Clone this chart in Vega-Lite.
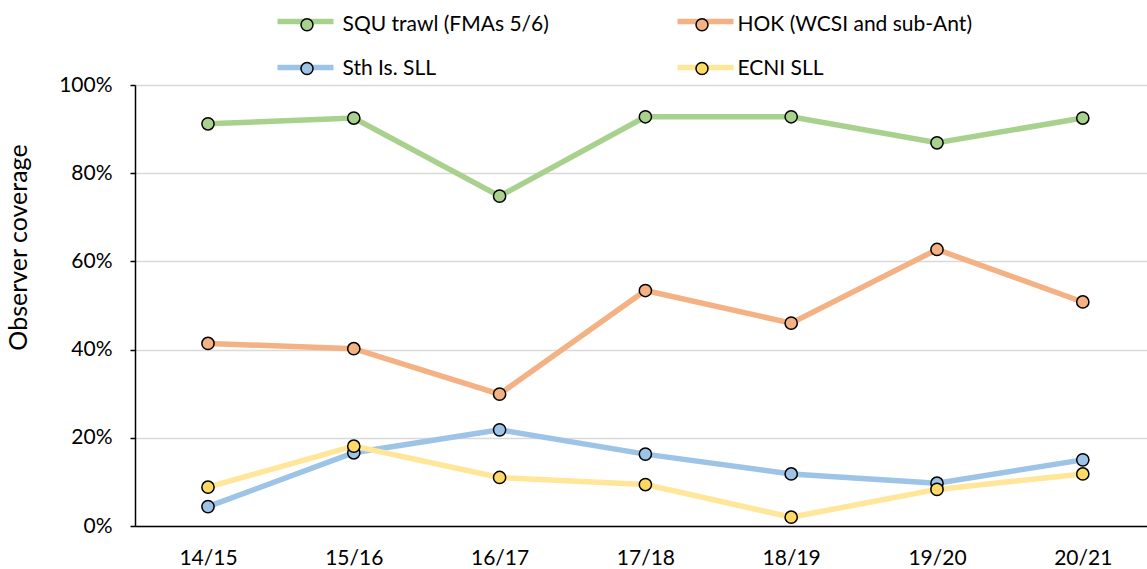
{
  "$schema": "https://vega.github.io/schema/vega-lite/v6.json",
  "width": 1012,
  "height": 441,
  "autosize": {"type": "none"},
  "padding": {"left": 135, "top": 85, "right": 0, "bottom": 43},
  "config": {
    "view": {"stroke": null},
    "font": "Lato",
    "legend": {"padding": 0}
  },
  "data": {
    "values": [
      {"season": "14/15", "series": "SQU trawl (FMAs 5/6)", "value": 0.912},
      {"season": "15/16", "series": "SQU trawl (FMAs 5/6)", "value": 0.925},
      {"season": "16/17", "series": "SQU trawl (FMAs 5/6)", "value": 0.748},
      {"season": "17/18", "series": "SQU trawl (FMAs 5/6)", "value": 0.928},
      {"season": "18/19", "series": "SQU trawl (FMAs 5/6)", "value": 0.928},
      {"season": "19/20", "series": "SQU trawl (FMAs 5/6)", "value": 0.869},
      {"season": "20/21", "series": "SQU trawl (FMAs 5/6)", "value": 0.925},
      {"season": "14/15", "series": "HOK (WCSI and sub-Ant)", "value": 0.414},
      {"season": "15/16", "series": "HOK (WCSI and sub-Ant)", "value": 0.402},
      {"season": "16/17", "series": "HOK (WCSI and sub-Ant)", "value": 0.299},
      {"season": "17/18", "series": "HOK (WCSI and sub-Ant)", "value": 0.534},
      {"season": "18/19", "series": "HOK (WCSI and sub-Ant)", "value": 0.46},
      {"season": "19/20", "series": "HOK (WCSI and sub-Ant)", "value": 0.627},
      {"season": "20/21", "series": "HOK (WCSI and sub-Ant)", "value": 0.508},
      {"season": "14/15", "series": "Sth Is. SLL", "value": 0.044},
      {"season": "15/16", "series": "Sth Is. SLL", "value": 0.166},
      {"season": "16/17", "series": "Sth Is. SLL", "value": 0.218},
      {"season": "17/18", "series": "Sth Is. SLL", "value": 0.163},
      {"season": "18/19", "series": "Sth Is. SLL", "value": 0.118},
      {"season": "19/20", "series": "Sth Is. SLL", "value": 0.097},
      {"season": "20/21", "series": "Sth Is. SLL", "value": 0.15},
      {"season": "14/15", "series": "ECNI SLL", "value": 0.088},
      {"season": "15/16", "series": "ECNI SLL", "value": 0.181},
      {"season": "16/17", "series": "ECNI SLL", "value": 0.11},
      {"season": "17/18", "series": "ECNI SLL", "value": 0.094},
      {"season": "18/19", "series": "ECNI SLL", "value": 0.02},
      {"season": "19/20", "series": "ECNI SLL", "value": 0.083},
      {"season": "20/21", "series": "ECNI SLL", "value": 0.118}
    ]
  },
  "encoding": {
    "x": {
      "field": "season",
      "type": "ordinal",
      "sort": null,
      "scale": {"type": "point", "padding": 0.4705, "align": 0.532},
      "axis": {
        "title": null,
        "ticks": false,
        "grid": false,
        "labelAngle": 0,
        "domainColor": "black",
        "domainWidth": 1.5,
        "labelFont": "Lato",
        "labelFontSize": 21,
        "labelColor": "black",
        "labelPadding": 21
      }
    },
    "y": {
      "field": "value",
      "type": "quantitative",
      "scale": {"domain": [0, 1]},
      "axis": {
        "values": [0, 0.2, 0.4, 0.6, 0.8, 1],
        "format": ".0%",
        "title": "Observer coverage",
        "grid": true,
        "gridColor": "#D9D9D9",
        "gridWidth": 1.5,
        "domainColor": "black",
        "domainWidth": 1.5,
        "tickColor": "black",
        "tickWidth": 1.5,
        "tickSize": 5,
        "labelFont": "Lato",
        "labelFontSize": 21,
        "labelColor": "black",
        "labelPadding": 18,
        "titleFont": "Lato",
        "titleFontSize": 25,
        "titleFontWeight": "normal",
        "titleColor": "black",
        "titleX": -104,
        "titleY": 162
      }
    }
  },
  "layer": [
    {
      "mark": {"type": "line", "strokeWidth": 5.5},
      "encoding": {
        "stroke": {
          "field": "series",
          "type": "nominal",
          "sort": null,
          "scale": {
            "domain": ["SQU trawl (FMAs 5/6)", "HOK (WCSI and sub-Ant)", "Sth Is. SLL", "ECNI SLL"],
            "range": ["#A9D18E", "#F4B183", "#9DC3E6", "#FFE699"]
          },
          "legend": {
            "orient": "none",
            "direction": "horizontal",
            "legendX": 160.5,
            "legendY": -73.5,
            "columns": 2,
            "title": null,
            "symbolType": "M-4,0H4",
            "symbolSize": 196,
            "symbolStrokeWidth": 5.5,
            "symbolFillColor": "transparent",
            "labelExpr": "''",
            "labelOffset": 0,
            "columnPadding": 322,
            "rowPadding": 24,
            "zindex": 0
          }
        }
      }
    },
    {
      "mark": {"type": "circle", "size": 150, "stroke": "black", "strokeWidth": 1.5, "opacity": 1},
      "encoding": {
        "fill": {
          "field": "series",
          "type": "nominal",
          "sort": null,
          "scale": {
            "range": ["#A9D18E", "#F4B183", "#9DC3E6", "#FFD966"]
          },
          "legend": {
            "orient": "none",
            "direction": "horizontal",
            "legendX": 161.5,
            "legendY": -71,
            "columns": 2,
            "title": null,
            "symbolType": "circle",
            "symbolSize": 144,
            "symbolStrokeColor": "black",
            "symbolStrokeWidth": 1.5,
            "symbolOpacity": 1,
            "labelFont": "Lato",
            "labelFontSize": 21,
            "labelColor": "black",
            "labelOffset": 25,
            "labelLimit": 400,
            "columnPadding": 142,
            "rowPadding": 22,
            "zindex": 1
          }
        }
      }
    }
  ]
}
